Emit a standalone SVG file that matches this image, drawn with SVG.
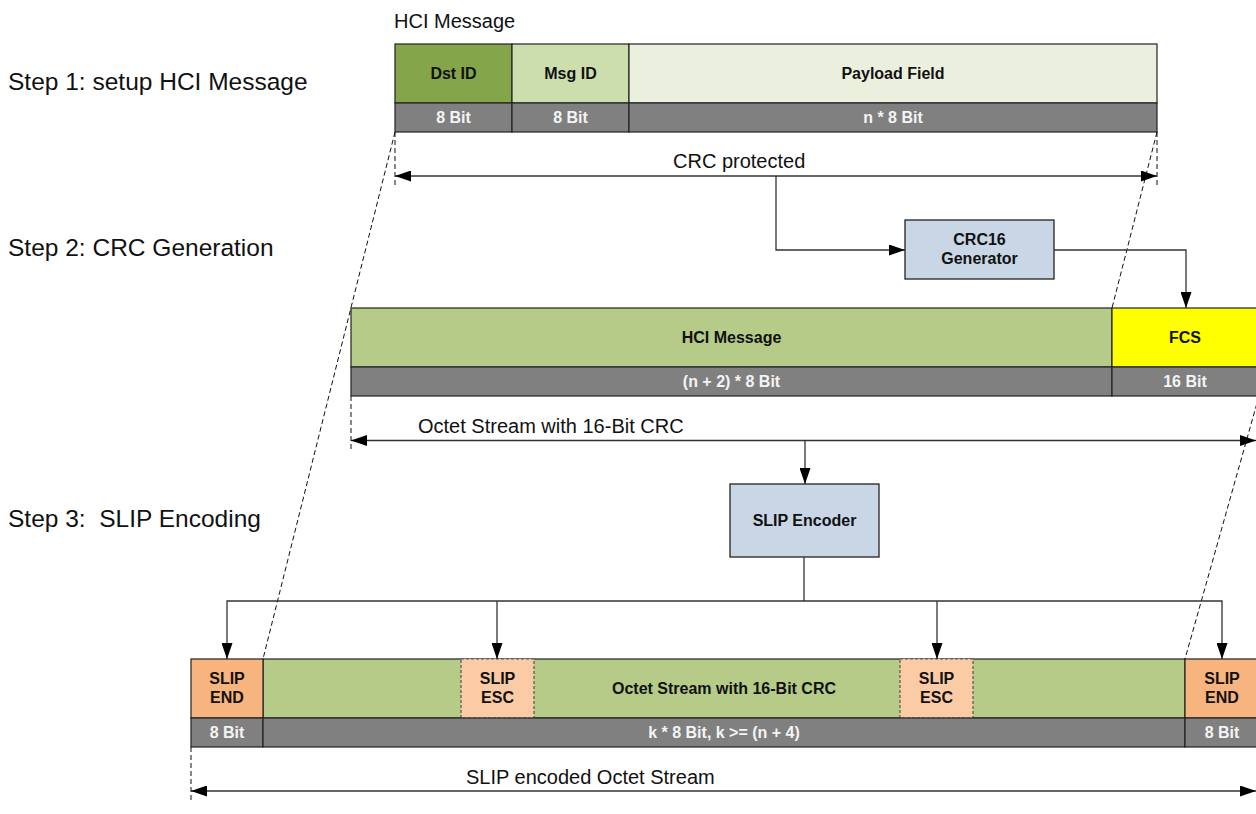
<svg xmlns="http://www.w3.org/2000/svg" width="1256" height="814" viewBox="0 0 1256 814">
<style>
.lbl{font-family:"Liberation Sans",Arial,sans-serif;font-size:24.5px;fill:#111}
.cap{font-family:"Liberation Sans",Arial,sans-serif;font-size:20px;fill:#111}
.b{font-family:"Liberation Sans",Arial,sans-serif;font-size:16px;font-weight:bold;fill:#111;text-anchor:middle}
.w{font-family:"Liberation Sans",Arial,sans-serif;font-size:16px;font-weight:bold;fill:#f4f4f4;text-anchor:middle}
.box{stroke:#222;stroke-width:1.2}
.gray{fill:#808080;stroke:#222;stroke-width:1.2}
.esc{fill:#FACBA5;stroke:#555;stroke-width:1.2;stroke-dasharray:3 2}
.proc{fill:#C9D6E6;stroke:#222;stroke-width:1.3}
.con{fill:none;stroke:#333;stroke-width:1.3}
.dash{fill:none;stroke:#111;stroke-width:1;stroke-dasharray:5 3}
</style>
<defs>
<marker id="ah" markerUnits="userSpaceOnUse" markerWidth="17" markerHeight="11" refX="16" refY="5.5" orient="auto-start-reverse">
<path d="M0,0 L16,5.5 L0,11 z" fill="#000"/>
</marker>
</defs>

<g id="labels">
<text class="cap" x="394" y="28">HCI Message</text>
<text class="lbl" x="8" y="90">Step 1: setup HCI Message</text>
<text class="lbl" x="8" y="256">Step 2: CRC Generation</text>
<text class="lbl" x="8" y="527" xml:space="preserve">Step 3:  SLIP Encoding</text>
<text class="cap" x="673" y="168">CRC protected</text>
<text class="cap" x="418" y="433">Octet Stream with 16-Bit CRC</text>
<text class="cap" x="466" y="784">SLIP encoded Octet Stream</text>
</g>

<g id="hci-message">
<rect class="box" x="395" y="44" width="117" height="59" fill="#84A54A"/>
<rect class="box" x="512" y="44" width="117" height="59" fill="#CDDEAE"/>
<rect class="box" x="629" y="44" width="528" height="59" fill="#EBF0DE"/>
<rect class="gray" x="395" y="103" width="117" height="29"/>
<rect class="gray" x="512" y="103" width="117" height="29"/>
<rect class="gray" x="629" y="103" width="528" height="29"/>
<text class="b" x="453.5" y="79">Dst ID</text>
<text class="b" x="570.5" y="79">Msg ID</text>
<text class="b" x="893" y="79">Payload Field</text>
<text class="w" x="453.5" y="123">8 Bit</text>
<text class="w" x="570.5" y="123">8 Bit</text>
<text class="w" x="893" y="123">n * 8 Bit</text>
</g>

<g id="crc16-generator">
<rect class="proc" x="905" y="220" width="149" height="59"/>
<text class="b" x="979.5" y="245">CRC16</text>
<text class="b" x="979.5" y="264">Generator</text>
</g>

<g id="crc-stream">
<rect class="box" x="351" y="308" width="761" height="59" fill="#B6CB88"/>
<rect class="box" x="1112" y="308" width="150" height="59" fill="#FFFF00"/>
<rect class="gray" x="351" y="367" width="761" height="29"/>
<rect class="gray" x="1112" y="367" width="150" height="29"/>
<text class="b" x="731.5" y="343">HCI Message</text>
<text class="b" x="1185" y="343">FCS</text>
<text class="w" x="731.5" y="387">(n + 2) * 8 Bit</text>
<text class="w" x="1185" y="387">16 Bit</text>
</g>

<g id="slip-encoder">
<rect class="proc" x="730" y="484" width="149" height="73"/>
<text class="b" x="804.5" y="526">SLIP Encoder</text>
</g>

<g id="slip-stream">
<rect class="box" x="263" y="659" width="922" height="59" fill="#B6CB88"/>
<rect class="box" x="191" y="659" width="72" height="59" fill="#F8B47E"/>
<rect class="box" x="1185" y="659" width="74" height="59" fill="#F8B47E"/>
<rect class="esc" x="461" y="659" width="73" height="59"/>
<rect class="esc" x="900" y="659" width="73" height="59"/>
<rect class="gray" x="191" y="718" width="72" height="29"/>
<rect class="gray" x="263" y="718" width="922" height="29"/>
<rect class="gray" x="1185" y="718" width="74" height="29"/>
<text class="b" x="227" y="684">SLIP</text>
<text class="b" x="227" y="703">END</text>
<text class="b" x="497.5" y="684">SLIP</text>
<text class="b" x="497.5" y="703">ESC</text>
<text class="b" x="936.5" y="684">SLIP</text>
<text class="b" x="936.5" y="703">ESC</text>
<text class="b" x="1222" y="684">SLIP</text>
<text class="b" x="1222" y="703">END</text>
<text class="b" x="724" y="694">Octet Stream with 16-Bit CRC</text>
<text class="w" x="227" y="738">8 Bit</text>
<text class="w" x="724" y="738">k * 8 Bit, k &gt;= (n + 4)</text>
<text class="w" x="1222" y="738">8 Bit</text>
</g>

<g id="connectors">
<line class="dash" x1="395" y1="132" x2="395" y2="188"/>
<line class="dash" x1="1157" y1="132" x2="1157" y2="188"/>
<line class="dash" x1="351" y1="396" x2="351" y2="452"/>
<line class="dash" x1="191" y1="747" x2="191" y2="802"/>
<line class="dash" x1="395" y1="132" x2="263" y2="659"/>
<line class="dash" x1="1157" y1="132" x2="1112" y2="308"/>
<line class="dash" x1="1259" y1="396" x2="1185" y2="659"/>
<line class="con" x1="395" y1="176" x2="1157" y2="176" marker-start="url(#ah)" marker-end="url(#ah)"/>
<line class="con" x1="351" y1="440.5" x2="1256" y2="440.5" marker-start="url(#ah)" marker-end="url(#ah)"/>
<line class="con" x1="191" y1="791" x2="1256" y2="791" marker-start="url(#ah)" marker-end="url(#ah)"/>
<path class="con" d="M776,176 V250 H905" marker-end="url(#ah)"/>
<path class="con" d="M1054,250 H1186 V308" marker-end="url(#ah)"/>
<line class="con" x1="805" y1="440.5" x2="805" y2="484" marker-end="url(#ah)"/>
<path class="con" d="M804,557 V601"/>
<path class="con" d="M227,659 V601 H1222 V659" marker-start="url(#ah)" marker-end="url(#ah)"/>
<line class="con" x1="497" y1="601" x2="497" y2="659" marker-end="url(#ah)"/>
<line class="con" x1="937" y1="601" x2="937" y2="659" marker-end="url(#ah)"/>
</g>
</svg>
